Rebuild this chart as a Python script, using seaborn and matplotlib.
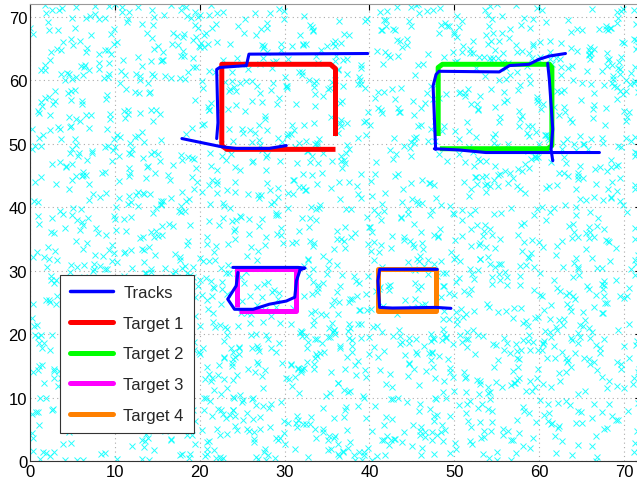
import numpy as np
import pandas as pd
import matplotlib
matplotlib.use("Agg")
import matplotlib.pyplot as plt
import seaborn as sns

sns.set_theme(style="white")
plt.rcParams['font.family'] = ['Liberation Sans', 'DejaVu Sans']

# ---------------- data ----------------
# Target ground-truth paths
target1_x = [36.0, 36.0, 35.4, 22.6, 22.6, 23.2, 36.0]
target1_y = [51.2, 61.8, 62.5, 62.5, 49.7, 49.1, 49.1]
target2_x = [48.1, 48.1, 48.6, 61.2, 61.5, 61.5, 61.0, 48.3]
target2_y = [51.2, 62.0, 62.5, 62.5, 62.0, 49.7, 49.2, 49.2]
target3_x = [24.4, 24.4, 31.3, 31.3, 24.6]
target3_y = [24.2, 30.2, 30.2, 23.7, 23.7]
target4_x = [47.9, 41.0, 41.0, 47.9, 47.9]
target4_y = [30.2, 30.2, 23.6, 23.6, 30.2]

# Estimated tracks
track1_x = [17.9, 22.6, 24.3, 26.3, 28.2, 30.2]
track1_y = [50.8, 49.5, 49.25, 49.25, 49.25, 49.7]
track2_x = [22.0, 22.15, 22.0, 22.35, 25.5, 25.8, 39.8]
track2_y = [50.8, 53.3, 61.7, 62.0, 62.3, 64.1, 64.2]
track3_x = [47.65, 50.6, 53.7, 61.6, 67.1]
track3_y = [49.2, 49.0, 48.6, 48.6, 48.6]
track4_x = [47.8, 47.5, 47.85, 48.2, 55.3, 56.5, 58.8, 60.0, 61.2, 63.1]
track4_y = [49.1, 59.1, 60.9, 61.4, 61.3, 62.3, 62.5, 63.3, 63.8, 64.2]
track5_x = [61.0, 61.2, 61.6, 61.4, 61.6]
track5_y = [62.65, 60.1, 52.3, 49.1, 47.3]
track6_x = [23.9, 31.6, 32.4, 31.8]
track6_y = [30.5, 30.5, 30.4, 30.1]
track7_x = [24.5, 24.3, 23.3, 24.1, 26.3, 28.2, 30.2, 31.2, 31.4, 31.8]
track7_y = [29.7, 27.6, 25.5, 23.9, 23.9, 24.7, 25.2, 25.8, 28.4, 30.0]
track8_x = [48.0, 41.2, 41.0, 41.2, 42.7, 47.85, 49.6]
track8_y = [30.2, 30.2, 28.4, 24.2, 24.1, 24.2, 24.05]

# Clutter (uniform false alarms over the surveillance region)
n_clutter = 2200
rng = np.random.default_rng(7)
clutter_x = rng.uniform(0, 72, n_clutter)
clutter_y = rng.uniform(0, 72, n_clutter)

xticks = [0, 10, 20, 30, 40, 50, 60, 70]
yticks = [0, 10, 20, 30, 40, 50, 60, 70]

target_names = ["Target 1", "Target 2", "Target 3", "Target 4"]
target_colors = ["#ff0000", "#00ff00", "#ff00ff", "#ff8000"]
track_color = "#0000ff"

# ---------------- figure ----------------
fig = plt.figure(figsize=(6.37, 4.89), dpi=100)
ax = fig.add_axes([30/637, 27/489, 611/637, 457/489])

clutter_df = pd.DataFrame({"x": clutter_x, "y": clutter_y})
ax.plot(clutter_df["x"], clutter_df["y"], linestyle="none", marker="x",
        color="#00ffff", markersize=4.6, markeredgewidth=0.7, zorder=1,
        clip_on=True, alpha=0.85)

tracks = [(track1_x, track1_y), (track2_x, track2_y), (track3_x, track3_y),
          (track4_x, track4_y), (track5_x, track5_y), (track6_x, track6_y),
          (track7_x, track7_y), (track8_x, track8_y)]
track_df = pd.concat([pd.DataFrame({"x": tx, "y": ty, "pt": range(len(tx)), "track": i})
                      for i, (tx, ty) in enumerate(tracks)], ignore_index=True)

targets = [(target1_x, target1_y), (target2_x, target2_y),
           (target3_x, target3_y), (target4_x, target4_y)]
for (tx, ty), c in zip(targets, target_colors):
    tdf = pd.DataFrame({"x": tx, "y": ty})
    sns.lineplot(data=tdf, x="x", y="y", sort=False, estimator=None, ax=ax,
                 color=c, linewidth=3.6, zorder=3, solid_capstyle="butt",
                 solid_joinstyle="round")

sns.lineplot(data=track_df, x="x", y="y", units="track", sort=False,
             estimator=None, ax=ax, color=track_color, linewidth=2.2, zorder=4,
             solid_joinstyle="round")

ax.set_xlim(0, 72)
ax.set_ylim(0, 72)
ax.set_xticks(xticks)
ax.set_yticks(yticks)
ax.set_xlabel("")
ax.set_ylabel("")
ax.grid(True, linestyle=(0, (1, 3)), color="#aaaaaa", linewidth=0.8)
ax.tick_params(axis="both", direction="in", length=4, width=0.8, labelsize=12,
               top=True, right=True, pad=2, colors="black")
for s in ax.spines.values():
    s.set_color("#333333")
    s.set_linewidth(0.8)
ax.spines["top"].set_color("#999999")

from matplotlib.lines import Line2D
handles = [Line2D([], [], color=track_color, linewidth=2.5)] + \
          [Line2D([], [], color=c, linewidth=3.6) for c in target_colors]
labels = ["Tracks"] + target_names
leg = ax.legend(handles, labels, loc="lower left", bbox_to_anchor=(0.049, 0.061),
                fontsize=12, frameon=True, fancybox=False, framealpha=1,
                edgecolor="#333333", handlelength=2.6, labelspacing=0.95,
                borderpad=0.6, handletextpad=0.6, borderaxespad=0)
leg.get_frame().set_linewidth(0.8)
leg.set_zorder(10)

fig.savefig("out.png", dpi=100)
